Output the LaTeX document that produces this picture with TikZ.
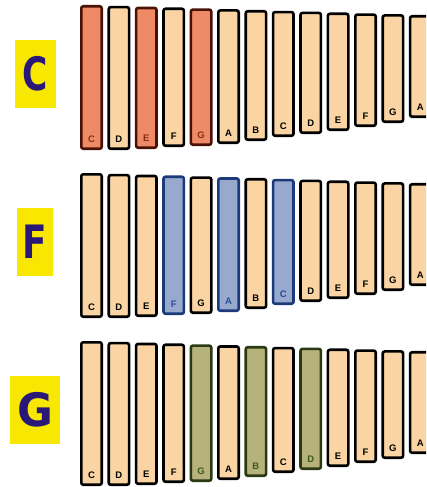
\documentclass[tikz,border=0pt]{standalone}
\usepackage{fontspec}
\setmainfont{Liberation Sans}
\newfontfamily\keyfont{DejaVu Sans}

\definecolor{barbeige}{HTML}{FAD5A3}
\definecolor{barred}{HTML}{EE8B66}
\definecolor{barredline}{HTML}{4A1206}
\definecolor{barredtext}{HTML}{8A2E16}
\definecolor{barblue}{HTML}{97AACD}
\definecolor{barblueline}{HTML}{1C3A7A}
\definecolor{barbluetext}{HTML}{2A4C9A}
\definecolor{bargreen}{HTML}{B5B27B}
\definecolor{bargreenline}{HTML}{2C3A12}
\definecolor{bargreentext}{HTML}{3F5A1F}
\definecolor{keyyellow}{HTML}{F8E700}
\definecolor{keyink}{HTML}{2A1878}

\tikzset{
  bar/.style={line width=2.6pt, rounded corners=2pt},
  plain bar/.style={bar, draw=black, fill=barbeige},
  plain text/.style={text=black},
  red bar/.style={bar, draw=barredline, fill=barred},
  red text/.style={text=barredtext},
  blue bar/.style={bar, draw=barblueline, fill=barblue},
  blue text/.style={text=barbluetext},
  green bar/.style={bar, draw=bargreenline, fill=bargreen},
  green text/.style={text=bargreentext},
  notename/.style={font=\fontsize{9.5}{9.5}\selectfont\bfseries, inner sep=0pt},
  keybox/.style={fill=keyyellow, text=keyink, inner sep=0pt, minimum height=68pt,
                 font=\keyfont\fontsize{46}{46}\selectfont\bfseries}
}

% #1 row name, #2 y offset, #3 #4 #5 chord bars, #6 chord colour
\newcommand{\xylorow}[6]{%
  \foreach \n/\b [count=\i from 0] in {C/150,D/150,E/149,F/147,G/146,A/144,B/141,
                                       C/137,D/134,E/131,F/127,G/123,A/118}{
    \pgfmathtruncatemacro{\hl}{(\i==#3)||(\i==#4)||(\i==#5)}
    \ifnum\hl=1
      \tikzset{cur bar/.style={#6 bar}, cur text/.style={#6 text}}
    \else
      \tikzset{cur bar/.style={plain bar}, cur text/.style={plain text}}
    \fi
    \draw[cur bar] ({80+27.4*\i+1.3},{5+0.83*\i+#2+1.3})
      rectangle ({80+27.4*\i+21.7},{\b+#2-1.3});
    \node[notename, cur text] (#1-\i) at ({80+27.4*\i+11.5},{\b+#2-11}) {\n};
  }%
}

\begin{document}
\begin{tikzpicture}[x=1pt, y=-1pt]
\clip (0,0) rectangle (426,487);

% chord keys
\node[keybox, minimum width=41pt] (keyC) at (35.5,74) {\scalebox{0.75}[1]{C}};
\node[keybox, minimum width=36pt] (keyF) at (35,242) {\scalebox{0.78}[1]{F}};
\node[keybox, minimum width=50pt] (keyG) at (35,410) {\scalebox{0.95}[1]{G}};

% xylophones
\xylorow{rowC}{0}{0}{2}{4}{red}
\xylorow{rowF}{168}{3}{5}{7}{blue}
\xylorow{rowG}{336}{4}{6}{8}{green}

\end{tikzpicture}
\end{document}
